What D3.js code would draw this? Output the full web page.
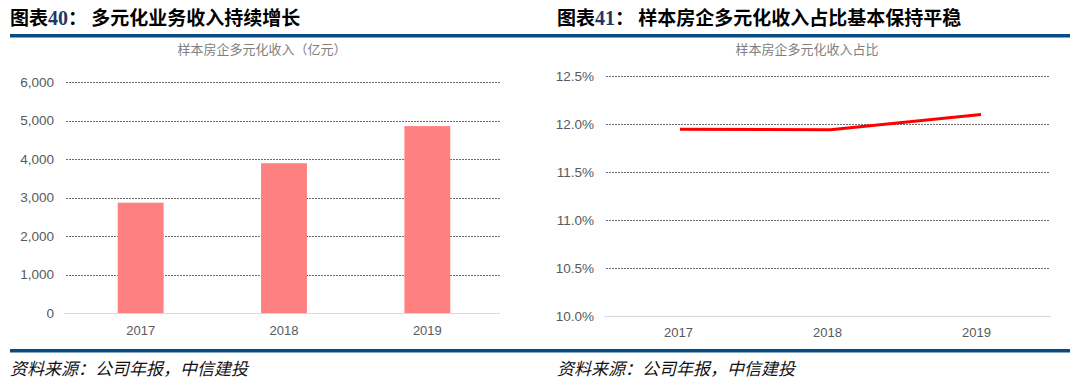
<!DOCTYPE html>
<html><head><meta charset="utf-8">
<script src="https://cdn.jsdelivr.net/npm/d3@7/dist/d3.min.js"></script>
<style>body{margin:0;background:#fff}svg{display:block}</style>
</head><body>
<svg id="c" width="1075" height="389"></svg>
<script>
const years = ["2017","2018","2019"];
const revenue = [2865, 3890, 4855];
const revTicks = [0,1000,2000,3000,4000,5000,6000];
const share = [11.945, 11.94, 12.10];
const shareTicks = [10.0,10.5,11.0,11.5,12.0,12.5];

const svg = d3.select("#c");
const blue = "#0a4c82";
const cjk = "'Noto Sans CJK SC', sans-serif";
const sans = "'Liberation Sans', Arial, sans-serif";

// rules
svg.append("rect").attr("x",10).attr("y",34).attr("width",1060).attr("height",3.5).attr("fill",blue);
svg.append("rect").attr("x",10).attr("y",349).attr("width",1060).attr("height",3.5).attr("fill",blue);

function title(x, num, rest){
  const t = svg.append("text").attr("x",x).attr("y",25).attr("font-size",19).attr("font-weight","bold").attr("fill","#000").style("font-family",cjk);
  t.append("tspan").text("图表");
  t.append("tspan").text(num).style("font-family","'Liberation Serif', 'Times New Roman', serif").attr("fill","#1f3864").attr("font-size",20);
  t.append("tspan").text("：  " + rest);
}
title(10,"40","多元化业务收入持续增长");
title(557,"41","样本房企多元化收入占比基本保持平稳");

function source(x){
  svg.append("text").attr("x",x).attr("y",375).attr("font-size",17).attr("font-style","italic").attr("fill","#111").style("font-family",cjk).text("资料来源：公司年报，中信建投");
}
source(10); source(557);

// Left chart
{
  const x = d3.scaleBand().domain(years).range([69,499]).paddingInner(0.68).paddingOuter(0.34);
  const y = d3.scaleLinear().domain([0,6000]).range([313,82]);
  svg.append("text").attr("x",262).attr("y",54).attr("text-anchor","middle").attr("font-size",13).attr("fill","#808080").style("font-family",cjk).text("样本房企多元化收入（亿元）");
  const g = svg.append("g");
  g.selectAll("line.grid").data(revTicks.filter(d=>d>0)).join("line")
    .attr("x1",66).attr("x2",500).attr("y1",d=>Math.round(y(d))+0.5).attr("y2",d=>Math.round(y(d))+0.5)
    .attr("stroke","#444").attr("stroke-width",0.8).attr("stroke-dasharray","2,1");
  g.selectAll("rect.bar").data(revenue).join("rect")
    .attr("x",(d,i)=>x(years[i])).attr("width",x.bandwidth())
    .attr("y",d=>y(d)).attr("height",d=>y(0)-y(d)).attr("fill","#ff8080");
  g.append("line").attr("x1",64).attr("x2",500).attr("y1",313.5).attr("y2",313.5).attr("stroke","#d9d9d9").attr("stroke-width",1.2);
  const ya = d3.axisLeft(y).tickValues(revTicks).tickSize(0).tickPadding(0).tickFormat(d3.format(","));
  const ag = svg.append("g").attr("transform","translate(54,0)").call(ya);
  ag.select(".domain").remove();
  ag.selectAll("text").attr("font-size",13.5).attr("fill","#595959").style("font-family",sans);
  const xa = d3.axisBottom(x).tickSize(0).tickPadding(0);
  const bg = svg.append("g").attr("transform","translate(0,325)").call(xa);
  bg.select(".domain").remove();
  bg.selectAll("text").attr("font-size",13).attr("fill","#595959").style("font-family",sans).attr("dy","0.8em");
}

// Right chart
{
  const x = d3.scalePoint().domain(years).range([680,981]);
  const y = d3.scaleLinear().domain([10,12.5]).range([316,76]);
  svg.append("text").attr("x",807).attr("y",54).attr("text-anchor","middle").attr("font-size",13).attr("fill","#808080").style("font-family",cjk).text("样本房企多元化收入占比");
  const g = svg.append("g");
  g.selectAll("line.grid").data(shareTicks.filter(d=>d>10)).join("line")
    .attr("x1",606).attr("x2",1050).attr("y1",d=>Math.round(y(d))+0.5).attr("y2",d=>Math.round(y(d))+0.5)
    .attr("stroke","#444").attr("stroke-width",0.8).attr("stroke-dasharray","2,1");
  g.append("line").attr("x1",604).attr("x2",1051).attr("y1",316.5).attr("y2",316.5).attr("stroke","#d9d9d9").attr("stroke-width",1.2);
  const line = d3.line().x((d,i)=>x(years[i])).y(d=>y(d));
  g.append("path").datum(share).attr("d",line).attr("fill","none").attr("stroke","#ff0000").attr("stroke-width",3);
  const ya = d3.axisLeft(y).tickValues(shareTicks).tickSize(0).tickPadding(0).tickFormat(d=>d.toFixed(1)+"%");
  const ag = svg.append("g").attr("transform","translate(594,0)").call(ya);
  ag.select(".domain").remove();
  ag.selectAll("text").attr("font-size",13.5).attr("fill","#595959").style("font-family",sans);
  const xa = d3.axisBottom(d3.scalePoint().domain(years).range([678,976])).tickSize(0).tickPadding(0);
  const bg = svg.append("g").attr("transform","translate(0,327)").call(xa);
  bg.select(".domain").remove();
  bg.selectAll("text").attr("font-size",13).attr("fill","#595959").style("font-family",sans).attr("dy","0.8em");
}
</script>
</body></html>
